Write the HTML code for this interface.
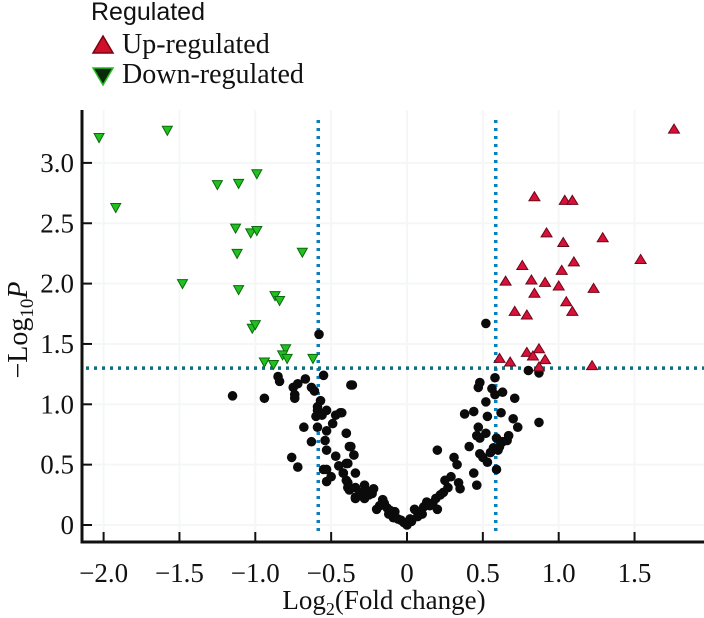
<!DOCTYPE html>
<html><head><meta charset="utf-8">
<style>
html,body{margin:0;padding:0;background:#fff;}
svg{display:block;}
text{font-family:"Liberation Serif",serif;fill:#111;}
</style></head>
<body>
<svg id="chart" width="704" height="618" viewBox="0 0 704 618" xmlns="http://www.w3.org/2000/svg">
  <g id="legend">
    <text x="91" y="20" font-size="25" style="font-family:'Liberation Sans',sans-serif">Regulated</text>
    <g>
      <polygon points="103,36 93,53 113,53" fill="#d0102a" stroke="#7a0010" stroke-width="1.5"/>
      <text x="122" y="53" font-size="28">Up-regulated</text>
    </g>
    <g>
      <polygon points="93,68 113,68 103,85" fill="#0a2a0a" stroke="#22c022" stroke-width="1.5"/>
      <text x="122" y="83" font-size="28">Down-regulated</text>
    </g>
  </g>
  <g id="grid"></g>
  <g id="thresholds"></g>
  <g id="points"></g>
  <g id="axes"></g>
  <text x="384" y="609" font-size="27" text-anchor="middle">Log<tspan font-size="18" dy="6">2</tspan><tspan dy="-6">(Fold change)</tspan></text>
  <text transform="translate(27,330) rotate(-90)" font-size="28" text-anchor="middle">−Log<tspan font-size="19" dy="6">10</tspan><tspan dy="-6" font-style="italic">P</tspan></text>
</svg>
<script>
const xTicks=[-2.0,-1.5,-1.0,-0.5,0,0.5,1.0,1.5];
const xTickLabels=["−2.0","−1.5","−1.0","−0.5","0","0.5","1.0","1.5"];
const yTicks=[0,0.5,1.0,1.5,2.0,2.5,3.0];
const yTickLabels=["0","0.5","1.0","1.5","2.0","2.5","3.0"];
const fcThreshold=[-0.585,0.585];
const pThreshold=1.3;
const downX=[-2.03,-1.58,-1.92,-1.48,-1.25,-1.11,-0.99,-1.13,-1.03,-0.99,-1.12,-0.69,-1.11,-0.87,-0.84,-1.02,-1.0,-0.80,-0.82,-0.79,-0.94,-0.88,-0.62];
const downY=[3.21,3.27,2.63,2.0,2.82,2.83,2.91,2.46,2.42,2.44,2.25,2.26,1.95,1.90,1.86,1.63,1.66,1.46,1.41,1.38,1.35,1.33,1.38];
const upX=[1.76,0.84,1.04,1.09,0.92,1.29,1.03,1.54,0.76,1.10,1.02,0.65,0.82,0.91,1.00,0.84,1.23,1.05,1.09,0.71,0.79,0.79,0.87,0.83,0.61,0.68,0.91,1.22,0.87];
const upY=[3.28,2.72,2.69,2.69,2.42,2.38,2.34,2.20,2.15,2.18,2.11,2.02,2.03,2.01,1.98,1.92,1.96,1.85,1.77,1.77,1.74,1.43,1.46,1.40,1.38,1.35,1.37,1.32,1.31];
const nsX=[-0.58,-0.85,-0.84,-1.15,-0.94,-0.67,-0.72,-0.75,-0.74,-0.74,-0.63,-0.61,-0.55,-0.37,-0.57,-0.59,-0.59,-0.53,-0.60,-0.56,-0.47,-0.44,-0.49,-0.68,-0.59,-0.53,-0.40,-0.63,-0.54,-0.53,-0.38,-0.35,-0.47,-0.76,-0.72,-0.40,-0.55,-0.53,-0.42,-0.34,-0.53,-0.39,-0.38,-0.34,
0.52,-0.36,-0.43,-0.40,-0.37,-0.35,-0.39,-0.42,-0.40,-0.39,-0.34,-0.28,-0.22,-0.31,-0.34,-0.28,-0.23,-0.16,-0.15,-0.20,-0.11,-0.08,-0.09,-0.04,0.0,0.03,0.07,0.05,0.11,0.13,0.17,0.20,0.19,0.24,0.25,0.20,0.31,0.33,0.34,0.35,0.44,0.46,0.41,0.48,0.50,0.53,0.59,0.57,0.61,0.63,0.67,0.46,0.48,0.52,0.47,0.59,0.38,0.44,0.53,0.62,0.70,0.73,0.87,0.52,0.58,0.63,0.71,0.48,0.47,0.56,0.58,0.80,0.87,
-0.25,-0.18,-0.12,-0.06,-0.02,0.02,0.09,0.15,0.22,-0.30,-0.26,-0.13,0.10,0.27,0.29,0.55,0.60,0.66,-0.45,-0.50];
const nsY=[1.58,1.23,1.19,1.07,1.05,1.21,1.17,1.14,1.08,1.05,1.14,1.11,1.24,1.16,1.03,0.98,0.95,0.95,0.90,0.91,0.91,0.93,0.84,0.81,0.81,0.78,0.76,0.69,0.70,0.62,0.65,0.58,0.57,0.56,0.48,0.51,0.46,0.46,0.43,0.43,0.36,0.35,0.29,0.22,
1.67,1.16,0.93,0.76,0.65,0.58,0.51,0.43,0.37,0.31,0.31,0.33,0.30,0.27,0.23,0.22,0.26,0.21,0.18,0.13,0.12,0.11,0.06,0.04,0.0,0.03,0.07,0.13,0.15,0.19,0.18,0.13,0.22,0.27,0.37,0.62,0.56,0.50,0.35,0.30,0.43,0.33,0.65,0.59,0.56,0.52,0.46,0.64,0.65,0.69,0.74,0.74,0.72,0.76,0.81,0.72,0.92,0.94,0.90,0.93,0.88,0.81,0.85,1.02,1.08,1.10,1.05,1.18,1.14,1.13,1.22,1.28,1.26,
0.25,0.16,0.09,0.05,0.02,0.05,0.10,0.16,0.25,0.26,0.28,0.14,0.09,0.31,0.40,0.60,0.62,0.70,0.49,0.40];

const NS='http://www.w3.org/2000/svg';
const X0=82, X1=704, Yb=542, Ytop=110;
function xs(v){return 407+151.7*v;}
function ys(v){return 525-120.7*v;}
function mk(tag,attrs,parent){const e=document.createElementNS(NS,tag);for(const k in attrs)e.setAttribute(k,attrs[k]);parent.appendChild(e);return e;}
const grid=document.getElementById('grid'),axes=document.getElementById('axes'),pts=document.getElementById('points'),thr=document.getElementById('thresholds');
xTicks.forEach((t,i)=>{
  const g=mk('line',{x1:xs(t),x2:xs(t),y1:Ytop,y2:Yb,stroke:'#f5f7f7','stroke-width':2},grid);
  
  
  const tk=mk('line',{x1:xs(t),x2:xs(t),y1:Yb,y2:Yb-10,stroke:'#111','stroke-width':2},axes);
  
  
  const lb=mk('text',{x:xs(t),y:Yb+40,'font-size':27,'text-anchor':'middle'},axes);
  lb.textContent=xTickLabels[i];
  
  
});
yTicks.forEach((t,i)=>{
  const g=mk('line',{x1:X0,x2:X1,y1:ys(t),y2:ys(t),stroke:'#f5f7f7','stroke-width':2},grid);
  
  
  const tk=mk('line',{x1:X0,x2:X0+10,y1:ys(t),y2:ys(t),stroke:'#111','stroke-width':2},axes);
  
  
  const lb=mk('text',{x:X0-8,y:ys(t)+9,'font-size':27,'text-anchor':'end'},axes);
  lb.textContent=yTickLabels[i];
  
  
});
const ax=mk('path',{d:`M${X0},${Ytop} L${X0},${Yb} L${X1},${Yb}`,fill:'none',stroke:'#111','stroke-width':3},axes);


fcThreshold.forEach(v=>{
  const l=mk('line',{x1:xs(v),x2:xs(v),y1:120,y2:Yb-8,stroke:'#0a7fc0','stroke-width':3.5,'stroke-dasharray':'3,5'},thr);
  
  
});
const hl=mk('line',{x1:X0+4,x2:X1,y1:ys(pThreshold),y2:ys(pThreshold),stroke:'#0a6f80','stroke-width':3.5,'stroke-dasharray':'3,5'},thr);


nsX.forEach((v,i)=>{
  const c=mk('circle',{cx:xs(v),cy:ys(nsY[i]),r:4.8,fill:'#0b0b0b'},pts);
  
  
});
downX.forEach((v,i)=>{
  const x=xs(v),y=ys(downY[i]);
  const p=mk('polygon',{points:`${x-5},${y-4} ${x+5},${y-4} ${x},${y+5}`,fill:'#1fc01f',stroke:'#0b6a0b','stroke-width':1},pts);
  
  
});
upX.forEach((v,i)=>{
  const x=xs(v),y=ys(upY[i]);
  const p=mk('polygon',{points:`${x},${y-5} ${x-5.5},${y+4} ${x+5.5},${y+4}`,fill:'#d8103a',stroke:'#6a0818','stroke-width':1},pts);
  
  
});
</script>
</body></html>
